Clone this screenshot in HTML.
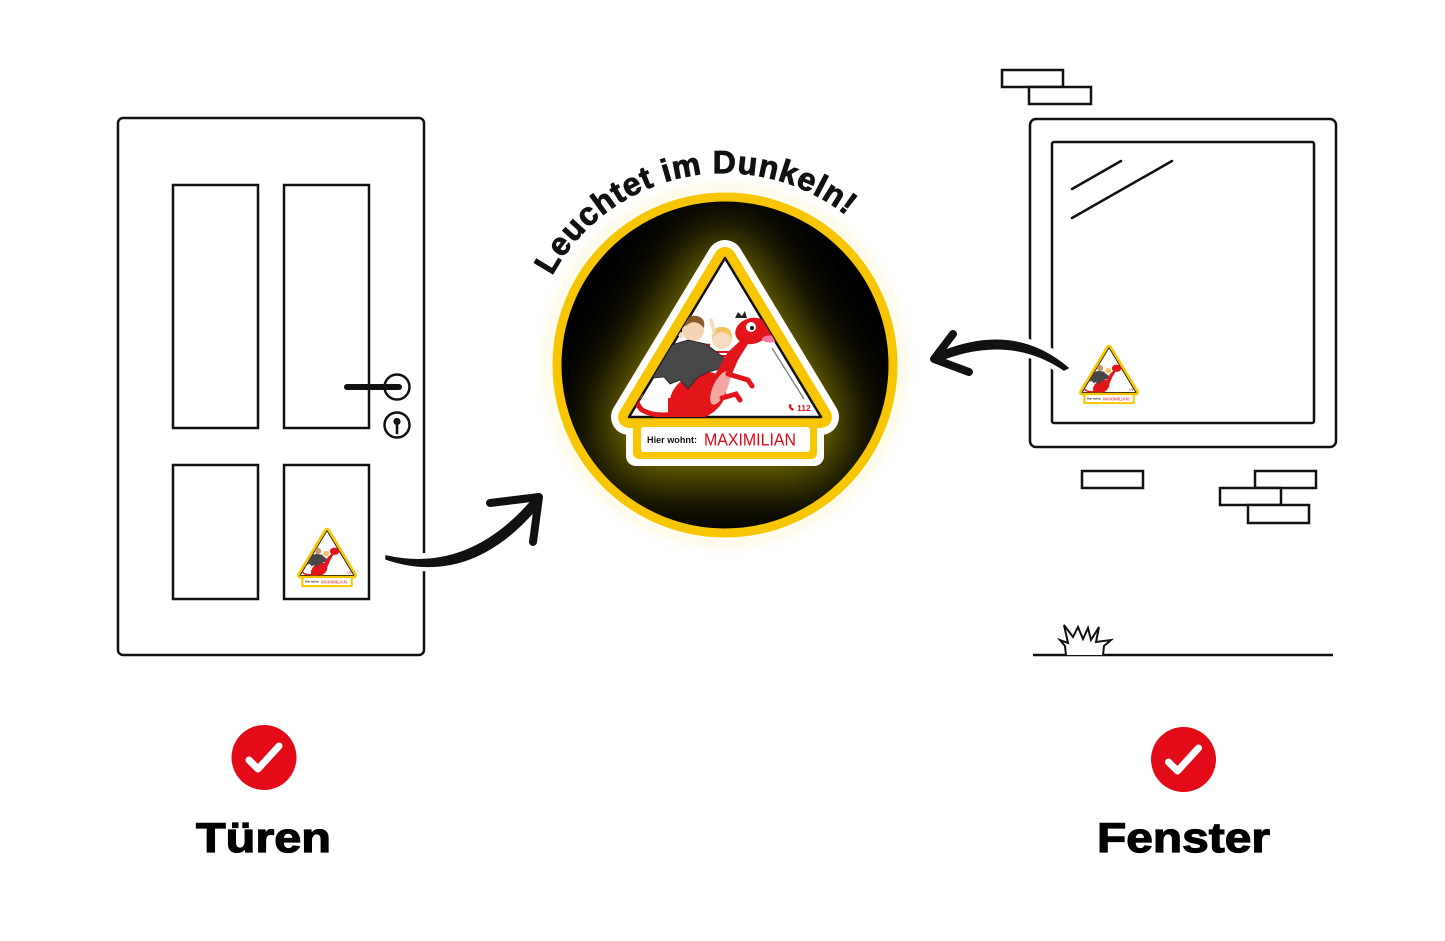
<!DOCTYPE html>
<html>
<head>
<meta charset="utf-8">
<style>
  html,body{margin:0;padding:0;background:#fff;}
  svg{display:block;}
  text{font-family:"Liberation Sans",sans-serif;}
</style>
</head>
<body>
<svg width="1445" height="941" viewBox="0 0 1445 941" xmlns="http://www.w3.org/2000/svg">
  <defs>
    <clipPath id="cc"><circle cx="725" cy="365" r="165"/></clipPath>
    <clipPath id="tri"><path d="M725,258 L821,417 L629,417 Z"/></clipPath>
    <filter id="blur" x="-50%" y="-50%" width="200%" height="200%"><feGaussianBlur stdDeviation="30"/></filter>
    <filter id="blur2" x="-20%" y="-20%" width="140%" height="140%"><feGaussianBlur stdDeviation="5"/></filter>
    <path id="arc" d="M552,276 A196,196 0 0,1 854,222"/>
  </defs>

  <rect width="1445" height="941" fill="#fff"/>

  <!-- ============ DOOR ============ -->
  <g fill="none" stroke="#111" stroke-width="2.5">
    <rect x="118" y="118" width="306" height="537" rx="5" fill="#fff"/>
    <rect x="173" y="185" width="85" height="243"/>
    <rect x="284" y="185" width="85" height="243"/>
    <rect x="173" y="465" width="85" height="134"/>
    <rect x="284" y="465" width="85" height="134"/>
    <circle cx="397" cy="387" r="12.5" fill="#fff"/>
    <circle cx="397" cy="425" r="12.5" fill="#fff"/>
  </g>
  <line x1="347" y1="387" x2="399" y2="387" stroke="#111" stroke-width="6" stroke-linecap="round"/>
  <circle cx="397" cy="421.5" r="3.6" fill="#111"/>
  <line x1="397" y1="422" x2="397" y2="433" stroke="#111" stroke-width="2.6" stroke-linecap="round"/>

  <!-- ============ WINDOW ============ -->
  <g fill="none" stroke="#111" stroke-width="2.5">
    <rect x="1002" y="70" width="61" height="17" fill="#fff"/>
    <rect x="1029" y="87" width="62" height="17" fill="#fff"/>
    <rect x="1030" y="119" width="306" height="328" rx="6" fill="#fff"/>
    <rect x="1052" y="142" width="262" height="281" rx="2"/>
    <line x1="1072" y1="189" x2="1121" y2="161" stroke-linecap="round"/>
    <line x1="1072" y1="218" x2="1172" y2="161" stroke-linecap="round"/>
    <rect x="1082" y="471" width="61" height="17" fill="#fff"/>
    <rect x="1255" y="471" width="61" height="17" fill="#fff"/>
    <rect x="1220" y="488" width="61" height="17" fill="#fff"/>
    <rect x="1248" y="505" width="61" height="18" fill="#fff"/>
    <line x1="1033" y1="655" x2="1333" y2="655"/>
    <path d="M1066,655 L1065,646 L1060,640 L1068,643 L1064,625 L1073,637 L1078,627 L1083,639 L1088,628 L1091,640 L1099,627 L1096,642 L1111,640 L1104,646 L1103,655" fill="#fff" stroke-width="2" stroke-linejoin="miter"/>
  </g>

  <!-- ============ ARROWS ============ -->
  <g>
    <path d="M386,557 Q470,580 538,500" fill="none" stroke="#fff" stroke-width="18" stroke-linecap="round"/>
    <path d="M386,556 Q470,575 535,497 L541,503 Q472,588 386,559 Z" fill="#111" stroke="#111" stroke-width="1.5" stroke-linejoin="round"/>
    <path d="M490,503 L539,497 L533,542" fill="none" stroke="#111" stroke-width="8" stroke-linecap="round" stroke-linejoin="round"/>
  </g>
  <g>
    <path d="M1066,368 Q1010,325 935,358" fill="none" stroke="#fff" stroke-width="18" stroke-linecap="round"/>
    <path d="M1068,368 Q1012,320 934,355 L936,362 Q1008,332 1064,370 Z" fill="#111" stroke="#111" stroke-width="1.5" stroke-linejoin="round"/>
    <path d="M953,334 L934,359 L969,372" fill="none" stroke="#111" stroke-width="8" stroke-linecap="round" stroke-linejoin="round"/>
  </g>

  <!-- ============ CENTER CIRCLE ============ -->
  <circle cx="725" cy="365" r="177" fill="none" stroke="#fdf3c0" stroke-width="10" filter="url(#blur2)" opacity="0.45"/>
  <g clip-path="url(#cc)">
    <circle cx="725" cy="365" r="165" fill="#000"/>
    <g filter="url(#blur)">
      <path d="M725,258 L821,417 L629,417 Z" fill="#8f8400" stroke="#8f8400" stroke-width="50" stroke-linejoin="round"/>
      <rect x="612" y="400" width="226" height="78" rx="20" fill="#8f8400"/>
    </g>
  </g>
  <circle cx="725" cy="365" r="168" fill="none" stroke="#F7C600" stroke-width="9"/>

  <text font-size="32" font-weight="bold" fill="#111" stroke="#111" stroke-width="0.9">
    <textPath href="#arc" textLength="342" lengthAdjust="spacing">Leuchtet im Dunkeln!</textPath>
  </text>

  <!-- ============ MAIN STICKER ============ -->
  <g>
    <path d="M725,258 L821,417 L629,417 Z" fill="#fff" stroke="#fff" stroke-width="36" stroke-linejoin="round"/>
    <rect x="626" y="408" width="198" height="58" rx="10" fill="#fff"/>
    <path d="M725,258 L821,417 L629,417 Z" fill="#F7C600" stroke="#F7C600" stroke-width="22" stroke-linejoin="round"/>
    <rect x="633" y="414" width="184" height="45" rx="6" fill="#F7C600"/>
    <path d="M725,258 L821,417 L629,417 Z" fill="#fff" stroke="#111" stroke-width="2.5" stroke-linejoin="round"/>
    <rect x="641" y="427" width="169" height="25" rx="3" fill="#fff"/>
    <g clip-path="url(#tri)">
      <path d="M690,410 Q660,420 642,410 Q634,402 639,396" fill="none" stroke="#e3151b" stroke-width="5" stroke-linecap="round"/>
      <ellipse cx="639" cy="393" rx="4" ry="6" fill="#f7941d"/>
      <circle cx="693" cy="330" r="11" fill="#f6d3b3"/>
      <path d="M682,328 Q684,314 697,316 Q706,318 704,328 Q697,320 690,323 Q685,326 682,328 Z" fill="#8b5a2b"/>
      <line x1="681" y1="336" x2="674" y2="325" stroke="#f6d3b3" stroke-width="4" stroke-linecap="round"/>
      <rect x="686" y="342" width="24" height="16" fill="#fff"/>
      <g stroke="#e3151b" stroke-width="2.5"><line x1="686" y1="345" x2="710" y2="345"/><line x1="686" y1="350" x2="710" y2="350"/><line x1="686" y1="355" x2="710" y2="355"/></g>
      <circle cx="722" cy="339" r="10" fill="#f8dcc0"/>
      <path d="M712,338 Q713,326 723,327 Q733,328 732,339 Q727,331 720,332 Q715,334 712,338 Z" fill="#f2c35e"/>
      <line x1="714" y1="332" x2="711" y2="320" stroke="#f8dcc0" stroke-width="3.5" stroke-linecap="round"/>
      <rect x="715" y="349" width="14" height="12" fill="#fff"/>
      <g stroke="#e3151b" stroke-width="2"><line x1="715" y1="352" x2="729" y2="352"/><line x1="715" y1="356" x2="729" y2="356"/><line x1="715" y1="360" x2="729" y2="360"/></g>
      <ellipse cx="698" cy="396" rx="30" ry="22" transform="rotate(-30 698 396)" fill="#e3151b"/>
      <rect x="668" y="398" width="22" height="22" fill="#e3151b"/>
      <path d="M645,371 L651,360 L668,346 L688,340 L706,344 L727,360 L724,368 L708,372 L697,378 L688,389 L680,380 L670,384 L664,377 L654,378 Z" fill="#474747" stroke="#222" stroke-width="0.8"/>
      <path d="M712,380 L728,352 L741,340 L748,344 L738,360 L726,388 Z" fill="#e3151b"/>
      <ellipse cx="720" cy="388" rx="7" ry="18" transform="rotate(25 720 388)" fill="#f4a7a0"/>
      <path d="M728,374 L748,380 L752,386" fill="none" stroke="#e3151b" stroke-width="5" stroke-linecap="round"/>
      <path d="M722,398 L736,394 L740,400" fill="none" stroke="#e3151b" stroke-width="5" stroke-linecap="round"/>
      <ellipse cx="752" cy="331" rx="17" ry="13" transform="rotate(-15 752 331)" fill="#e3151b"/>
      <ellipse cx="772" cy="328" rx="12" ry="8" transform="rotate(-10 772 328)" fill="#e3151b"/>
      <path d="M735,318 L738,312 L742,316 L745,311 L747,318 Z" fill="#222"/>
      <circle cx="751" cy="327" r="5" fill="#fff"/>
      <circle cx="752" cy="328" r="2" fill="#111"/>
      <ellipse cx="770" cy="339" rx="8" ry="3.5" fill="#f27aa0"/>
      <line x1="772" y1="348" x2="804" y2="399" stroke="#333" stroke-width="1.4" opacity="0.6"/>
      <path d="M789,404 Q788,409 793,411 L794,409 L791,407 L792,405 Z" fill="#e3151b"/>
      <text x="797" y="411" font-size="8.5" font-weight="bold" fill="#e3151b">112</text>
    </g>
    <text x="647" y="443" font-size="9.5" font-weight="bold" fill="#111" textLength="50" lengthAdjust="spacingAndGlyphs">Hier wohnt:</text>
    <text x="704" y="445.5" font-size="17.5" fill="#e30613" textLength="92" lengthAdjust="spacingAndGlyphs">MAXIMILIAN</text>
  </g>

  <!-- ============ MINI STICKER (door) ============ -->
  <g transform="translate(124 458.6) scale(0.28)">
    <path d="M725,258 L821,417 L629,417 Z" fill="#F7C600" stroke="#F7C600" stroke-width="22" stroke-linejoin="round"/>
    <rect x="633" y="414" width="184" height="45" rx="6" fill="#F7C600"/>
    <path d="M725,258 L821,417 L629,417 Z" fill="#fff" stroke="#111" stroke-width="3" stroke-linejoin="round"/>
    <rect x="641" y="427" width="169" height="25" rx="3" fill="#fff"/>
    <g clip-path="url(#tri)">
      <path d="M690,410 Q660,420 642,410 Q634,402 639,396" fill="none" stroke="#e3151b" stroke-width="5"/>
      <circle cx="693" cy="330" r="11" fill="#c9956a"/>
      <circle cx="722" cy="339" r="10" fill="#f2c35e"/>
      <rect x="686" y="342" width="24" height="16" fill="#e88"/>
      <ellipse cx="698" cy="396" rx="30" ry="22" transform="rotate(-30 698 396)" fill="#e3151b"/>
      <rect x="668" y="398" width="22" height="22" fill="#e3151b"/>
      <path d="M645,371 L651,360 L668,346 L688,340 L706,344 L727,360 L724,368 L708,372 L697,378 L688,389 L680,380 L670,384 L664,377 L654,378 Z" fill="#474747"/>
      <path d="M712,380 L728,352 L741,340 L748,344 L738,360 L726,388 Z" fill="#e3151b"/>
      <ellipse cx="752" cy="331" rx="17" ry="13" fill="#e3151b"/>
      <ellipse cx="772" cy="328" rx="12" ry="8" fill="#e3151b"/>
      <text x="797" y="411" font-size="9" font-weight="bold" fill="#e3151b">112</text>
    </g>
    <text x="647" y="443" font-size="9.5" font-weight="bold" fill="#111" textLength="50" lengthAdjust="spacingAndGlyphs">Hier wohnt:</text>
    <text x="704" y="445.5" font-size="17.5" fill="#e30613" textLength="92" lengthAdjust="spacingAndGlyphs">MAXIMILIAN</text>
  </g>

  <!-- ============ MINI STICKER (window) ============ -->
  <g transform="translate(906 275.6) scale(0.28)">
    <path d="M725,258 L821,417 L629,417 Z" fill="#F7C600" stroke="#F7C600" stroke-width="22" stroke-linejoin="round"/>
    <rect x="633" y="414" width="184" height="45" rx="6" fill="#F7C600"/>
    <path d="M725,258 L821,417 L629,417 Z" fill="#fff" stroke="#111" stroke-width="3" stroke-linejoin="round"/>
    <rect x="641" y="427" width="169" height="25" rx="3" fill="#fff"/>
    <g clip-path="url(#tri)">
      <path d="M690,410 Q660,420 642,410 Q634,402 639,396" fill="none" stroke="#e3151b" stroke-width="5"/>
      <circle cx="693" cy="330" r="11" fill="#c9956a"/>
      <circle cx="722" cy="339" r="10" fill="#f2c35e"/>
      <rect x="686" y="342" width="24" height="16" fill="#e88"/>
      <ellipse cx="698" cy="396" rx="30" ry="22" transform="rotate(-30 698 396)" fill="#e3151b"/>
      <rect x="668" y="398" width="22" height="22" fill="#e3151b"/>
      <path d="M645,371 L651,360 L668,346 L688,340 L706,344 L727,360 L724,368 L708,372 L697,378 L688,389 L680,380 L670,384 L664,377 L654,378 Z" fill="#474747"/>
      <path d="M712,380 L728,352 L741,340 L748,344 L738,360 L726,388 Z" fill="#e3151b"/>
      <ellipse cx="752" cy="331" rx="17" ry="13" fill="#e3151b"/>
      <ellipse cx="772" cy="328" rx="12" ry="8" fill="#e3151b"/>
      <text x="797" y="411" font-size="9" font-weight="bold" fill="#e3151b">112</text>
    </g>
    <text x="647" y="443" font-size="9.5" font-weight="bold" fill="#111" textLength="50" lengthAdjust="spacingAndGlyphs">Hier wohnt:</text>
    <text x="704" y="445.5" font-size="17.5" fill="#e30613" textLength="92" lengthAdjust="spacingAndGlyphs">MAXIMILIAN</text>
  </g>

  <!-- ============ CHECKS & LABELS ============ -->
  <circle cx="264" cy="757.5" r="32.5" fill="#e30b17"/>
  <path d="M249,760 L258,769 L279,746" fill="none" stroke="#fff" stroke-width="7" stroke-linecap="round" stroke-linejoin="round"/>
  <circle cx="1183.5" cy="759.5" r="32.5" fill="#e30b17"/>
  <path d="M1168.5,762 L1177.5,771 L1198.5,748" fill="none" stroke="#fff" stroke-width="7" stroke-linecap="round" stroke-linejoin="round"/>

  <text x="196" y="852" font-size="42" font-weight="bold" fill="#000" stroke="#000" stroke-width="1.2" textLength="135" lengthAdjust="spacingAndGlyphs">Türen</text>
  <text x="1097" y="852" font-size="42" font-weight="bold" fill="#000" stroke="#000" stroke-width="1.2" textLength="173" lengthAdjust="spacingAndGlyphs">Fenster</text>
</svg>
</body>
</html>
